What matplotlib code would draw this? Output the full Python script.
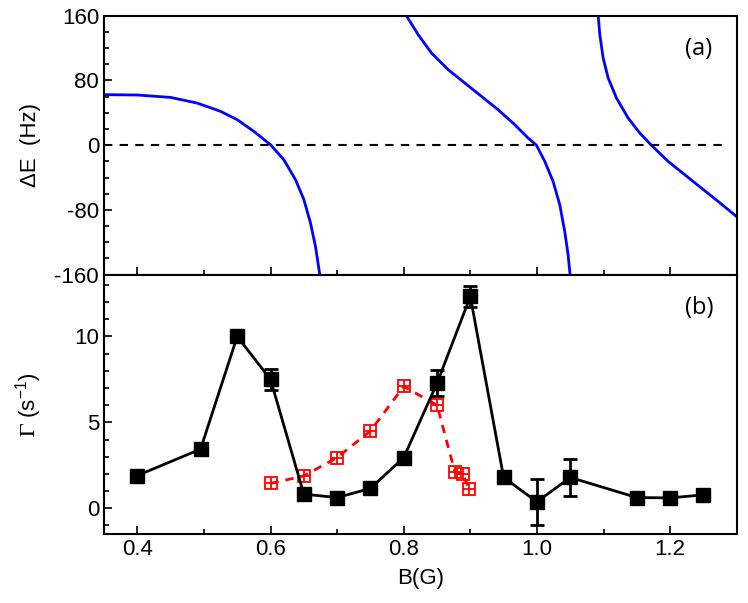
import matplotlib
matplotlib.use("Agg")
import matplotlib.pyplot as plt
from matplotlib.ticker import MultipleLocator

plt.rcParams['font.family'] = ['Liberation Sans', 'DejaVu Sans']
plt.rcParams['mathtext.fontset'] = 'stix'

# ---- panel (a): energy shift branches ----
b1_B = [0.35, 0.40, 0.45, 0.49, 0.525, 0.55, 0.575, 0.60, 0.62, 0.6375, 0.65, 0.66, 0.6675, 0.674]
b1_E = [62.4, 62, 59, 52, 41.8, 31.5, 17, 0.6, -18, -42.6, -67, -96, -125, -160]
b2_B = [0.804, 0.8217, 0.8417, 0.8667, 0.8917, 0.9167, 0.9417, 0.9667, 0.9867, 0.9992,
        1.0117, 1.0242, 1.0342, 1.0417, 1.0467, 1.0497]
b2_E = [160, 136.5, 113.8, 93.3, 76.8, 60.3, 43.8, 25.3, 8.8, 0,
        -20, -44.7, -73.5, -106.5, -135, -160]
b3_B = [1.0919, 1.0944, 1.0994, 1.1069, 1.1194, 1.1369, 1.1544, 1.1719, 1.1969, 1.2219,
        1.2469, 1.2719, 1.2994]
b3_E = [160, 136.5, 107.7, 83, 58.2, 33.5, 15, -0.2, -20, -36.5, -53, -69.4, -88]
zero_B = [0.35, 1.28]
zero_E = [0, 0]

# ---- panel (b): loss rates ----
blk_B = [0.4, 0.495, 0.55, 0.6, 0.65, 0.7, 0.75, 0.8, 0.85, 0.9, 0.95, 1.0, 1.05, 1.15, 1.2, 1.25]
blk_G = [1.9, 3.44, 10.0, 7.5, 0.82, 0.62, 1.15, 2.95, 7.28, 12.33, 1.79, 0.37, 1.79, 0.62, 0.6, 0.78]
blk_err = [0, 0, 0, 0.6, 0, 0, 0, 0, 0.76, 0.63, 0, 1.34, 1.09, 0, 0, 0]
red_B = [0.6, 0.65, 0.7, 0.75, 0.8, 0.85, 0.877, 0.889, 0.898]
red_G = [1.44, 1.88, 2.95, 4.5, 7.09, 6.0, 2.08, 1.98, 1.1]

fig = plt.figure(figsize=(7.48, 6.03), dpi=100)
ax1 = fig.add_axes([0.139, 0.5445, 0.846, 0.4295])
ax2 = fig.add_axes([0.139, 0.1145, 0.846, 0.430], sharex=ax1)

blue = '#0000ff'
for bb, ee in [(b1_B, b1_E), (b2_B, b2_E), (b3_B, b3_E)]:
    ax1.plot(bb, ee, color=blue, lw=2.0, solid_joinstyle='round')
ax1.plot(zero_B, zero_E, color='black', lw=1.5, ls=(0, (4, 3.5)))
ax1.set_ylim(-160, 160)
ax1.set_xlim(0.35, 1.3)
ax1.set_yticks([-160, -80, 0, 80, 160])
ax1.set_yticklabels(['-160', '-80', '0', '80', '160'])
ax1.yaxis.set_minor_locator(MultipleLocator(20))
ax1.set_ylabel('ΔE  (Hz)', fontsize=16, labelpad=10)
ax1.text(0.94, 0.87, '(a)', transform=ax1.transAxes, fontsize=17,
         family=['Open Sans', 'DejaVu Sans'], ha='center', va='center')
ax1.tick_params(axis='x', labelbottom=False)

# panel b
ax2.plot(red_B, red_G, color='red', lw=2.0, ls=(0, (3, 2.5)), zorder=2)
ax2.plot(red_B, red_G, ls='none', marker='s', ms=8, mfc='none', mec='red', mew=1.3, zorder=3)
ax2.plot(red_B, red_G, ls='none', marker='+', ms=8, mec='red', mew=1.3, zorder=3)
ax2.plot(blk_B, blk_G, color='black', lw=2.0, marker='s', ms=10, zorder=4)
eb_B = [b for b, e in zip(blk_B, blk_err) if e > 0]
eb_G = [g for g, e in zip(blk_G, blk_err) if e > 0]
eb_E = [e for e in blk_err if e > 0]
ax2.errorbar(eb_B, eb_G, yerr=eb_E, fmt='none', ecolor='black', elinewidth=2.0,
             capsize=5, capthick=2.0, zorder=4)
ax2.set_ylim(-1.5, 13.6)
ax2.set_yticks([0, 5, 10])
ax2.yaxis.set_minor_locator(MultipleLocator(1))
ax2.set_xticks([0.4, 0.6, 0.8, 1.0, 1.2])
ax2.set_xticklabels(['0.4', '0.6', '0.8', '1.0', '1.2'])
ax2.xaxis.set_minor_locator(MultipleLocator(0.1))
ax2.set_xlabel('B(G)', fontsize=16, labelpad=6)
ax2.set_ylabel(r'$\Gamma$ (s$^{\mathregular{-1}}$)', fontsize=16, labelpad=22)
ax2.text(0.94, 0.87, '(b)', transform=ax2.transAxes, fontsize=17,
         family=['Open Sans', 'DejaVu Sans'], ha='center', va='center')

for ax in (ax1, ax2):
    ax.tick_params(axis='both', which='major', direction='in', length=6, width=1.2,
                   labelsize=16, top=False, right=False)
    ax.tick_params(axis='both', which='minor', direction='in', length=3.5, width=1.2,
                   top=False, right=False)
    for s in ax.spines.values():
        s.set_linewidth(1.5)
ax1.xaxis.set_minor_locator(MultipleLocator(0.1))

fig.savefig('out.png', dpi=100)
